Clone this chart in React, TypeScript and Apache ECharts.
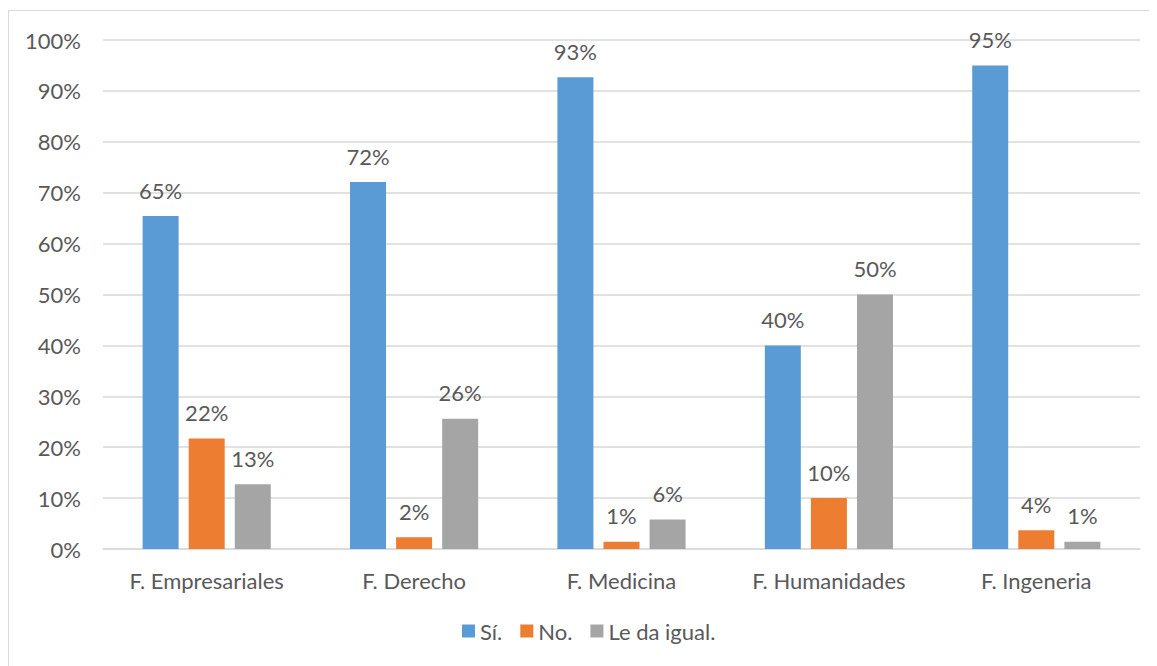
import React, { useEffect, useRef } from "react";
import * as echarts from "echarts";

const categories = ["F. Empresariales", "F. Derecho", "F. Medicina", "F. Humanidades", "F. Ingeneria"];
const si = [65.4, 72.1, 92.7, 40.0, 95.0];
const no = [21.7, 2.3, 1.4, 10.0, 3.7];
const igual = [12.7, 25.6, 5.8, 50.0, 1.4];
const seriesNames = ["Sí.", "No.", "Le da igual."];
const colors = ["#5B9BD5", "#ED7D31", "#A5A5A5"];

const FONT = "Lato";
const TEXT = "#595959";
const FS = 22;

export default function App() {
  const ref = useRef<HTMLDivElement>(null);
  useEffect(() => {
    document.documentElement.style.overflow = "hidden";
    document.body.style.overflow = "hidden";
    const chart = echarts.init(ref.current!, undefined, { renderer: "svg" });
    const mk = (name: string, data: number[], color: string) => ({
      name,
      type: "bar",
      data,
      barWidth: 36,
      barGap: "28%",
      itemStyle: { color },
      label: {
        show: true,
        position: "top",
        distance: 15,
        color: TEXT,
        fontFamily: FONT,
        fontSize: FS,
        formatter: (p: any) => Math.round(p.value) + "%",
      },
    });
    chart.setOption({
      animation: false,
      textStyle: { fontFamily: FONT },
      grid: { left: 94, top: 29, right: 16, bottom: 120, containLabel: false },
      legend: {
        bottom: 22,
        left: 448,
        itemWidth: 13,
        itemHeight: 13,
        itemGap: 18,
        icon: "rect",
        textStyle: { color: TEXT, fontFamily: FONT, fontSize: FS },
        data: seriesNames,
      },
      xAxis: {
        type: "category",
        data: categories,
        axisTick: { show: false },
        axisLine: { lineStyle: { color: "#d9d9d9", width: 1.5 } },
        axisLabel: { color: TEXT, fontFamily: FONT, fontSize: FS, margin: 20 },
      },
      yAxis: {
        type: "value",
        min: 0,
        max: 100,
        interval: 10,
        axisLine: { show: false },
        axisTick: { show: false },
        splitLine: { lineStyle: { color: "#d9d9d9", width: 1.5 } },
        axisLabel: { color: TEXT, fontFamily: FONT, fontSize: FS, margin: 22, formatter: "{value}%" },
      },
      series: [mk(seriesNames[0], si, colors[0]), mk(seriesNames[1], no, colors[1]), mk(seriesNames[2], igual, colors[2])],
    });
    return () => chart.dispose();
  }, []);
  return (
    <div
      ref={ref}
      style={{
        width: 1149,
        height: 660,
        marginTop: 2,
        border: "1px solid #d9d9d9",
        boxSizing: "border-box",
      }}
    />
  );
}
